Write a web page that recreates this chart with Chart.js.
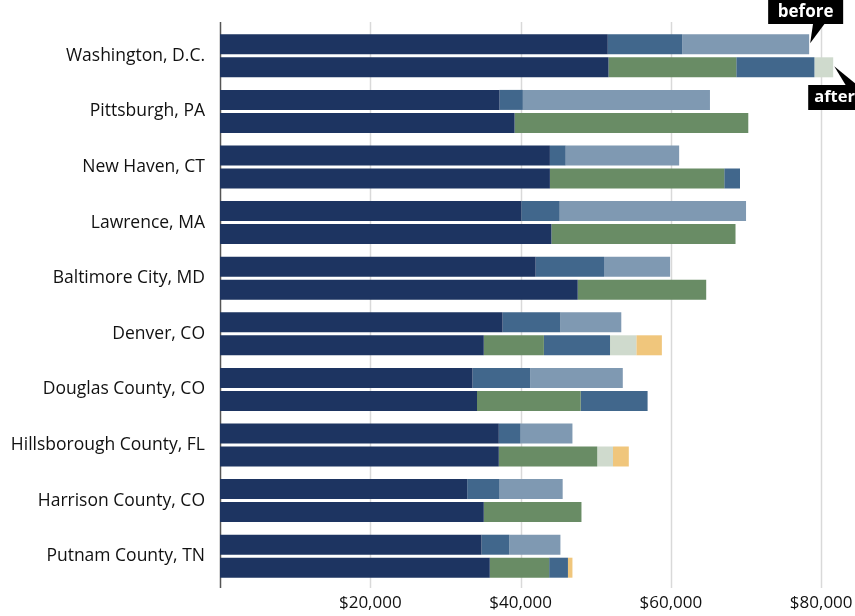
<!DOCTYPE html>
<html>
<head>
<meta charset="utf-8">
<script src="https://cdn.jsdelivr.net/npm/chart.js@4/dist/chart.umd.min.js"></script>
<style>
  html, body { margin: 0; padding: 0; background: #fff; }
  #wrap { width: 855px; height: 616px; position: relative; }
</style>
</head>
<body>
<div id="wrap"><canvas id="chart" width="855" height="616"></canvas></div>
<script>
// Categories, top to bottom
const places = [
  "Washington, D.C.", "Pittsburgh, PA", "New Haven, CT", "Lawrence, MA",
  "Baltimore City, MD", "Denver, CO", "Douglas County, CO",
  "Hillsborough County, FL", "Harrison County, CO", "Putnam County, TN"
];

// "before" bar segments (dollars)
const beforeBase  = [51600, 37200, 43900, 40100, 42000, 37600, 33600, 37100, 32900, 34800];
const beforeMid   = [ 9900,  3100,  2100,  5100,  9100,  7700,  7700,  2900,  4300,  3700];
const beforeLight = [16900, 24900, 15100, 24800,  8800,  8100, 12300,  6900,  8400,  6800];

// "after" bar segments (dollars)
const afterBase   = [51700, 39200, 43900, 44100, 47600, 35100, 34200, 37100, 35100, 35900];
const afterGreen  = [17000, 31100, 23200, 24500, 17100,  8000, 13800, 13100, 13000,  7900];
const afterMid    = [10400,     0,  2100,     0,     0,  8800,  8900,     0,     0,  2500];
const afterPale   = [ 2500,     0,     0,     0,     0,  3500,     0,  2100,     0,     0];
const afterOrange = [    0,     0,     0,     0,     0,  3400,     0,  2100,     0,   600];

// x axis
const xTicks = [20000, 40000, 60000, 80000];
const xMax = 84500;

const NAVY = "#1d3461";
const MID = "#41678c";
const LIGHT = "#7f99b2";
const GREEN = "#698c65";
const PALE = "#cfdacd";
const ORANGE = "#f0c67c";

Chart.defaults.font.family = "'Open Sans', sans-serif";
Chart.defaults.color = "#111";

function ds(data, color, stack) {
  return {
    data: data,
    backgroundColor: color,
    borderWidth: 0,
    stack: stack,
    categoryPercentage: 0.827,
    barPercentage: 0.87
  };
}

// grid lines and left axis line, drawn from the x scale
const gridPlugin = {
  id: "grid",
  beforeDatasetsDraw(chart) {
    const { ctx, scales: { x } } = chart;
    const top = 22, bottom = 588;
    ctx.save();
    ctx.lineWidth = 1.5;
    ctx.strokeStyle = "#d9d9d9";
    xTicks.forEach((v) => {
      const px = Math.round(x.getPixelForValue(v)) + 0.5;
      ctx.beginPath();
      ctx.moveTo(px, top);
      ctx.lineTo(px, bottom);
      ctx.stroke();
    });
    ctx.strokeStyle = "#555";
    const x0 = Math.round(x.getPixelForValue(0)) + 0.5;
    ctx.beginPath();
    ctx.moveTo(x0, top);
    ctx.lineTo(x0, bottom);
    ctx.stroke();
    ctx.restore();
  }
};

// "before" / "after" callouts pointing at the first category's bars
const calloutPlugin = {
  id: "callouts",
  afterDatasetsDraw(chart) {
    const { ctx } = chart;
    const bEl = chart.getDatasetMeta(2).data[0];
    const aEl = chart.getDatasetMeta(6).data[0];
    ctx.save();
    ctx.fillStyle = "#000";
    ctx.font = "bold 17px 'Open Sans', sans-serif";
    ctx.textAlign = "center";
    ctx.textBaseline = "middle";

    // before
    let tx = bEl.x + 1, ty = bEl.y - 1;
    let bx = tx - 42, by = 0, bw = 75, bh = 24;
    ctx.fillRect(bx, by, bw, bh);
    ctx.beginPath();
    ctx.moveTo(tx, ty);
    ctx.lineTo(tx + 3, bh - 1);
    ctx.lineTo(tx + 15, bh - 1);
    ctx.closePath();
    ctx.fill();
    ctx.fillStyle = "#fff";
    ctx.fillText("before", bx + bw / 2, by + bh / 2);

    // after
    ctx.fillStyle = "#000";
    tx = aEl.x + 1; ty = aEl.y - 1;
    bx = tx - 26; by = 85; bw = 60; bh = 25;
    ctx.fillRect(bx, by, bw, bh);
    ctx.beginPath();
    ctx.moveTo(tx, ty);
    ctx.lineTo(tx + 12, by + 1);
    ctx.lineTo(tx + 24, by + 1);
    ctx.closePath();
    ctx.fill();
    ctx.fillStyle = "#fff";
    ctx.textAlign = "left";
    ctx.font = "bold 16.5px 'Open Sans', sans-serif";
    ctx.fillText("after", bx + 6, by + bh / 2);
    ctx.restore();
  }
};

new Chart(document.getElementById("chart"), {
  type: "bar",
  data: {
    labels: places,
    datasets: [
      ds(beforeBase, NAVY, "before"),
      ds(beforeMid, MID, "before"),
      ds(beforeLight, LIGHT, "before"),
      ds(afterBase, NAVY, "after"),
      ds(afterGreen, GREEN, "after"),
      ds(afterMid, MID, "after"),
      ds(afterPale, PALE, "after"),
      ds(afterOrange, ORANGE, "after")
    ]
  },
  options: {
    indexAxis: "y",
    responsive: false,
    animation: false,
    devicePixelRatio: 1,
    layout: { padding: { top: 28, right: 0, left: 0, bottom: 0 } },
    plugins: { legend: { display: false }, tooltip: { enabled: false } },
    scales: {
      x: {
        stacked: true,
        min: 0,
        max: xMax,
        grid: { display: false, drawTicks: false },
        border: { display: false },
        afterBuildTicks: (s) => { s.ticks = xTicks.map((v) => ({ value: v })); },
        afterFit: (s) => { s.height = 32; s.paddingLeft = 0; s.paddingRight = 0; },
        ticks: {
          padding: 9,
          maxRotation: 0,
          autoSkip: false,
          font: { size: 17 },
          color: "#111",
          callback: (v) => "$" + Number(v).toLocaleString("en-US")
        }
      },
      y: {
        stacked: true,
        grid: { display: false, drawTicks: false },
        border: { display: false },
        afterFit: (s) => { s.width = 220; },
        ticks: {
          padding: 15,
          autoSkip: false,
          font: { size: 17.5 },
          color: "#111"
        }
      }
    }
  },
  plugins: [gridPlugin, calloutPlugin]
});
</script>
</body>
</html>
